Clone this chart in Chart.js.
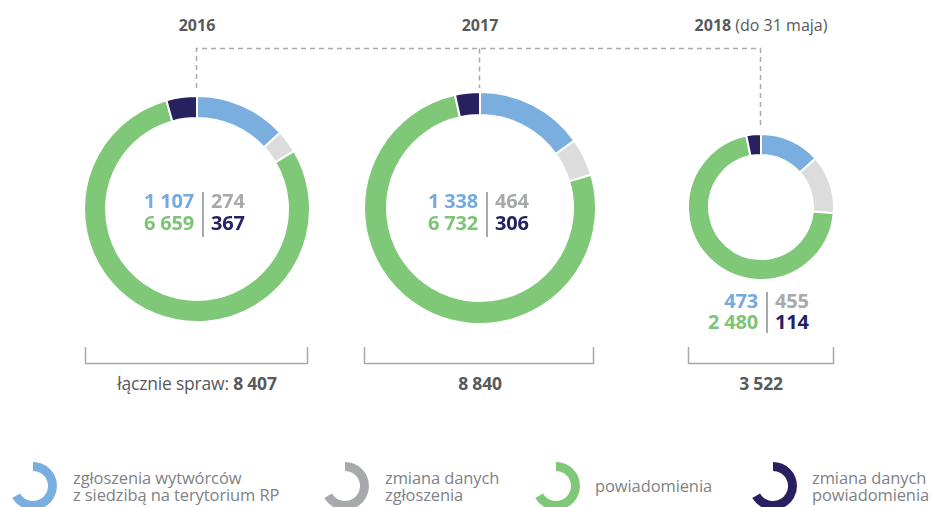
<!DOCTYPE html>
<html lang="pl">
<head>
<meta charset="utf-8">
<script src="https://cdn.jsdelivr.net/npm/chart.js@4/dist/chart.umd.min.js"></script>
<style>
  html, body { margin: 0; padding: 0; background: #fff; }
  #stage { position: relative; width: 933px; height: 507px; overflow: hidden; font-family: "Open Sans", "Noto Sans", sans-serif; }
  .abs { position: absolute; }
  .year { font-size: 16px; line-height: 20px; color: #58595b; white-space: nowrap; text-align: center; }
  .year b { font-weight: 700; }
  .year span { font-weight: 400; }
  .num { font-size: 20px; line-height: 22px; font-weight: 700; white-space: nowrap; letter-spacing: -0.2px; }
  .total { font-size: 17.5px; line-height: 20px; color: #58595b; white-space: nowrap; text-align: center; letter-spacing: -0.2px; }
  .legtxt { font-size: 16.5px; line-height: 17px; color: #808285; white-space: nowrap; letter-spacing: -0.1px; }
  svg { position: absolute; left: 0; top: 0; }
</style>
</head>
<body>
<div id="stage"></div>
<script>
// ---------------- DATA ----------------
const years = ['2016', '2017', '2018'];
const yearNotes = ['', '', '(do 31 maja)'];
const categories = [
  ['zgłoszenia wytwórców', 'z siedzibą na terytorium RP'],
  ['zmiana danych', 'zgłoszenia'],
  ['powiadomienia'],
  ['zmiana danych', 'powiadomienia']
];
const values2016 = [1107, 274, 6659, 367];
const values2017 = [1338, 464, 6732, 306];
const values2018 = [473, 455, 2480, 114];
const totalPrefix = 'łącznie spraw: ';

// ---------------- STYLE / LAYOUT ----------------
const sliceColors = ['#79aedf', '#dcdcdc', '#7fc878', '#27215f'];
const textColors  = ['#74aadf', '#a7a9ac', '#7cc576', '#262262'];
const legendColors = ['#79aedf', '#a7a9ac', '#7fc878', '#27215f'];
const lineGrey = '#a7a9ac';

const allValues = [values2016, values2017, values2018];
const donuts = [
  { cx: 197, cy: 209, r: 112, thick: 20, labelCy: [201, 223], divX: 203, divY: [192, 237], bracket: [85, 307] },
  { cx: 480, cy: 208, r: 115, thick: 21, labelCy: [201, 223], divX: 487, divY: [192, 237], bracket: [364, 593] },
  { cx: 761, cy: 207, r: 72,  thick: 19, labelCy: [301, 322], divX: 767, divY: [292, 333], bracket: [688, 833] }
];
const legendPos = [ {ix: 33, tx: 73}, {ix: 345, tx: 385}, {ix: 556, tx: 595}, {ix: 773, tx: 812} ];

const stage = document.getElementById('stage');
const fmt = n => String(n).replace(/\B(?=(\d{3})+(?!\d))/g, ' ');
function el(tag, cls, css, html) {
  const e = document.createElement(tag);
  if (cls) e.className = cls;
  Object.assign(e.style, css || {});
  if (html !== undefined) e.innerHTML = html;
  stage.appendChild(e);
  return e;
}

// ---------------- LINES (SVG) ----------------
let svg = '<svg width="933" height="507" xmlns="http://www.w3.org/2000/svg">';
svg += `<path d="M196.5,88 V48.5 H760.5 V129 M479.5,48.5 V88" fill="none" stroke="${lineGrey}" stroke-width="1.5" stroke-dasharray="5 4"/>`;
donuts.forEach(d => {
  svg += `<path d="M${d.bracket[0]+0.5},347 V363.5 H${d.bracket[1]+0.5} V347" fill="none" stroke="${lineGrey}" stroke-width="1.5"/>`;
  svg += `<line x1="${d.divX}" y1="${d.divY[0]}" x2="${d.divX}" y2="${d.divY[1]}" stroke="${lineGrey}" stroke-width="2"/>`;
});
svg += '</svg>';
stage.insertAdjacentHTML('beforeend', svg);

// ---------------- DOUGHNUTS ----------------
donuts.forEach((d, i) => {
  const R = d.r + 1;
  const S = 2 * R + 2;
  const box = el('div', 'abs', { left: (d.cx - S / 2) + 'px', top: (d.cy - S / 2) + 'px', width: S + 'px', height: S + 'px' });
  const cv = document.createElement('canvas');
  box.appendChild(cv);
  new Chart(cv, {
    type: 'doughnut',
    data: {
      labels: categories.map(c => c.join(' ')),
      datasets: [{
        data: allValues[i],
        backgroundColor: sliceColors,
        borderColor: '#ffffff',
        borderWidth: 2,
        hoverOffset: 0,
        offset: 0
      }]
    },
    options: {
      responsive: true,
      maintainAspectRatio: false,
      animation: false,
      cutout: d.r - d.thick - 1,
      layout: { padding: 0 },
      events: [],
      plugins: { legend: { display: false }, tooltip: { enabled: false } }
    }
  });

  // year title
  el('div', 'abs year', { left: (d.cx - 150) + 'px', width: '300px', top: (25 - 10) + 'px' },
    `<b>${years[i]}</b>` + (yearNotes[i] ? ` <span>${yearNotes[i]}</span>` : ''));

  // center / below numbers
  const v = allValues[i];
  const rows = [[0, 1], [2, 3]];
  rows.forEach((pair, ri) => {
    const top = d.labelCy[ri] - 11.5;
    el('div', 'abs num', { right: (933 - (d.divX - 9)) + 'px', top: top + 'px', color: textColors[pair[0]], textAlign: 'right' }, fmt(v[pair[0]]));
    el('div', 'abs num', { left: (d.divX + 8) + 'px', top: top + 'px', color: textColors[pair[1]] }, fmt(v[pair[1]]));
  });

  // total
  const total = v.reduce((a, b) => a + b, 0);
  el('div', 'abs total', { left: (d.cx - 150) + 'px', width: '300px', top: (383 - 10) + 'px' },
    (i === 0 ? totalPrefix : '') + `<b>${fmt(total)}</b>`);
});

// ---------------- LEGEND ----------------
categories.forEach((lines, k) => {
  const p = legendPos[k];
  const S = 48;
  const box = el('div', 'abs', { left: (p.ix - S / 2) + 'px', top: (486 - S / 2) + 'px', width: S + 'px', height: S + 'px' });
  const cv = document.createElement('canvas');
  box.appendChild(cv);
  new Chart(cv, {
    type: 'doughnut',
    data: { labels: ['a', 'b'], datasets: [{ data: [240, 120], backgroundColor: [legendColors[k], 'rgba(0,0,0,0)'], borderWidth: 0, hoverOffset: 0 }] },
    options: { responsive: true, maintainAspectRatio: false, animation: false, cutout: 15, events: [],
      plugins: { legend: { display: false }, tooltip: { enabled: false } } }
  });
  const top = lines.length === 2 ? 469 : 477;
  el('div', 'abs legtxt', { left: p.tx + 'px', top: top + 'px' }, lines.join('<br>'));
});
</script>
</body>
</html>
